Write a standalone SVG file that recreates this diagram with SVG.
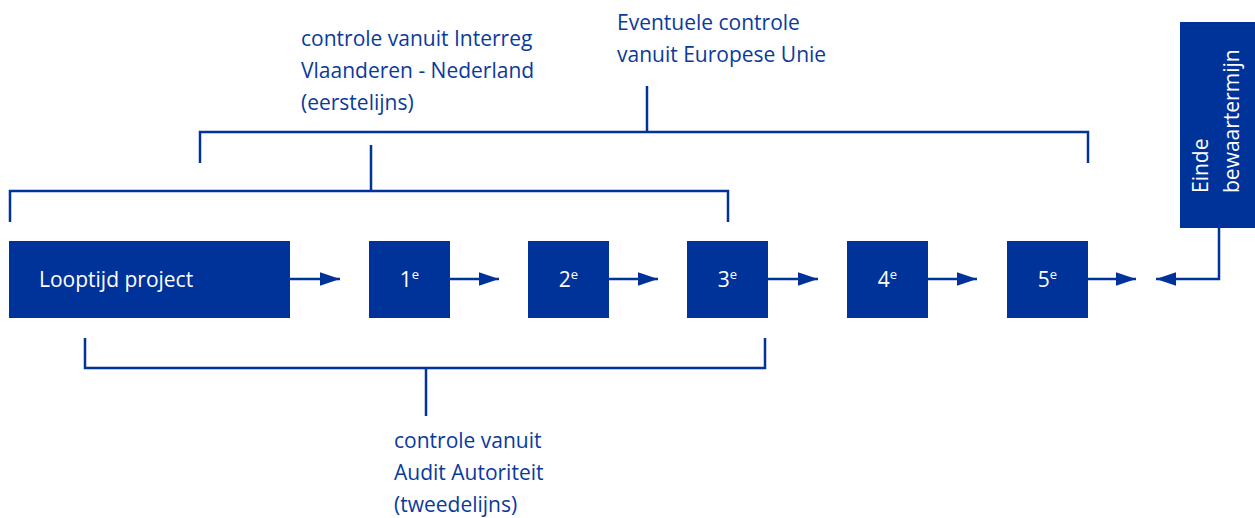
<svg xmlns="http://www.w3.org/2000/svg" width="1255" height="518" viewBox="0 0 1255 518">
<defs>
<style>
.box{fill:#003399;}
.bt{fill:#ffffff;font-family:"Open Sans","Noto Sans","DejaVu Sans",sans-serif;font-size:21px;}
.lbl{fill:#0a3a9c;font-family:"Open Sans","Noto Sans","DejaVu Sans",sans-serif;font-size:21px;}
.ln{fill:none;stroke:#003399;stroke-width:2.5;}
.sup{font-size:13px;}
</style>
<marker id="ah" markerUnits="userSpaceOnUse" markerWidth="20" markerHeight="14" viewBox="0 0 18 12" refX="18" refY="6" orient="auto">
<path d="M0,0 L18,6 L0,12 Z" fill="#003399"/>
</marker>
</defs>
<rect width="1255" height="518" fill="#ffffff"/>

<g id="label-interreg">
<text class="lbl" x="301" y="46">controle vanuit Interreg</text>
<text class="lbl" x="301" y="78">Vlaanderen - Nederland</text>
<text class="lbl" x="301" y="110">(eerstelijns)</text>
</g>
<g id="label-eu">
<text class="lbl" x="617" y="30">Eventuele controle</text>
<text class="lbl" x="617" y="62">vanuit Europese Unie</text>
</g>
<g id="label-audit">
<text class="lbl" x="394" y="448">controle vanuit</text>
<text class="lbl" x="394" y="480">Audit Autoriteit</text>
<text class="lbl" x="394" y="512">(tweedelijns)</text>
</g>

<g id="node-looptijd">
<rect class="box" x="9" y="241" width="281" height="77"/>
<text class="bt" x="39" y="287">Looptijd project</text>
</g>
<g id="node-1">
<rect class="box" x="369" y="241" width="81" height="77"/>
<text class="bt" x="409.5" y="287" text-anchor="middle">1<tspan class="sup" dy="-8">e</tspan></text>
</g>
<g id="node-2">
<rect class="box" x="528" y="241" width="81" height="77"/>
<text class="bt" x="568.5" y="287" text-anchor="middle">2<tspan class="sup" dy="-8">e</tspan></text>
</g>
<g id="node-3">
<rect class="box" x="687" y="241" width="81" height="77"/>
<text class="bt" x="727.5" y="287" text-anchor="middle">3<tspan class="sup" dy="-8">e</tspan></text>
</g>
<g id="node-4">
<rect class="box" x="847" y="241" width="81" height="77"/>
<text class="bt" x="887.5" y="287" text-anchor="middle">4<tspan class="sup" dy="-8">e</tspan></text>
</g>
<g id="node-5">
<rect class="box" x="1007" y="241" width="81" height="77"/>
<text class="bt" x="1047.5" y="287" text-anchor="middle">5<tspan class="sup" dy="-8">e</tspan></text>
</g>
<g id="node-einde">
<rect class="box" x="1180" y="22" width="75" height="206"/>
<text class="bt" transform="translate(1208,193) rotate(-90)">Einde</text>
<text class="bt" transform="translate(1239,193) rotate(-90)">bewaartermijn</text>
</g>

<g id="connectors">
<path class="ln" d="M290 279 H340" marker-end="url(#ah)"/>
<path class="ln" d="M450 279 H499" marker-end="url(#ah)"/>
<path class="ln" d="M609 279 H658" marker-end="url(#ah)"/>
<path class="ln" d="M768 279 H818" marker-end="url(#ah)"/>
<path class="ln" d="M928 279 H977" marker-end="url(#ah)"/>
<path class="ln" d="M1088 279 H1136" marker-end="url(#ah)"/>
<path class="ln" d="M1219 228 V279 H1156" marker-end="url(#ah)"/>
<path class="ln" d="M10 222 V191 H728 V222"/>
<path class="ln" d="M371 191 V145"/>
<path class="ln" d="M200 163 V132 H1088 V163"/>
<path class="ln" d="M647 132 V86"/>
<path class="ln" d="M85 338 V368 H765 V338"/>
<path class="ln" d="M426 368 V416"/>
</g>
</svg>
